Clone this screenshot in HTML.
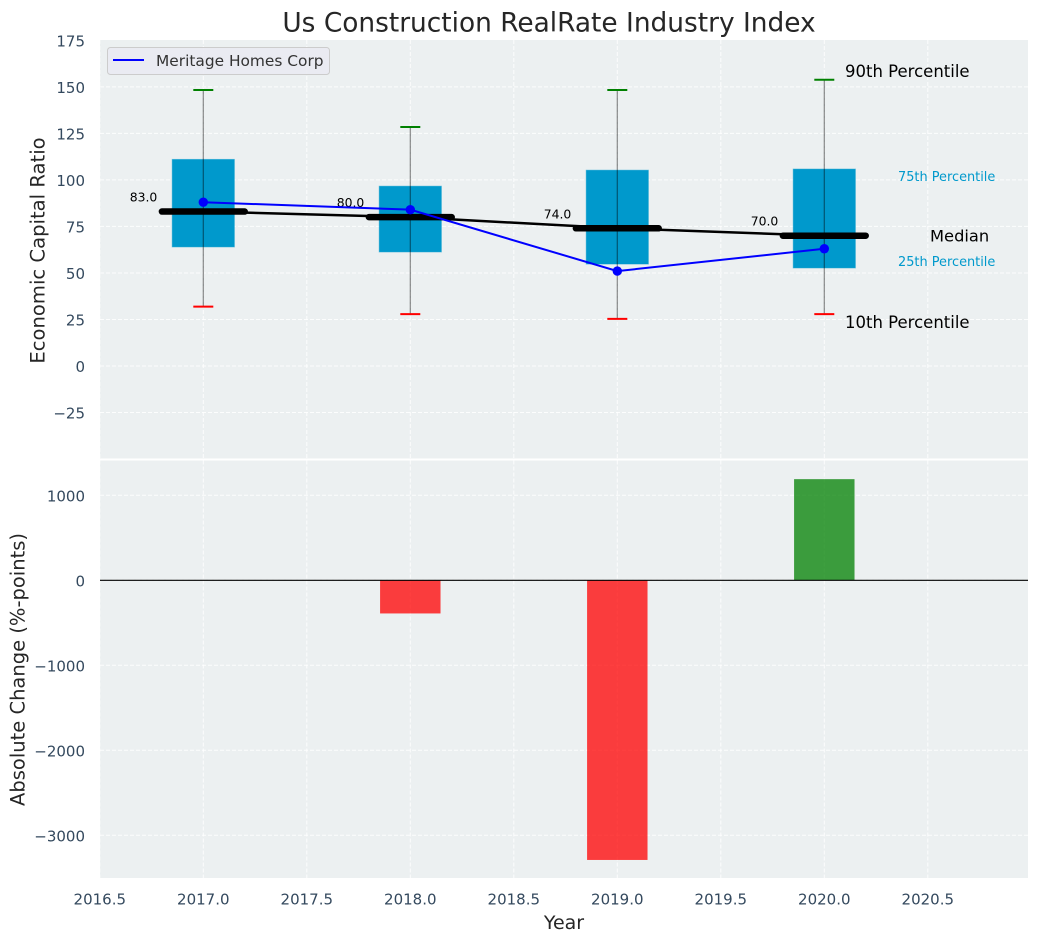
<!DOCTYPE html>
<html>
<head>
<meta charset="utf-8">
<title>Us Construction RealRate Industry Index</title>
<style>
html,body{margin:0;padding:0;background:#fff;width:1039px;height:942px;overflow:hidden}
svg{display:block}
text{font-family:"DejaVu Sans","Liberation Sans",sans-serif}
</style>
</head>
<body>
<svg id="chart" xmlns="http://www.w3.org/2000/svg" width="1039" height="942" viewBox="0 0 1039 942"></svg>
<script>
const years = [2017, 2018, 2019, 2020];
const p90 = [148.3, 128.4, 148.3, 153.8];
const p75 = [111.0, 96.6, 105.2, 105.8];
const medians = [83, 80, 74, 70];
const p25 = [64, 61.3, 54.8, 52.7];
const p10 = [31.9, 27.9, 25.3, 27.9];
const company = [88, 84, 51, 63];
const changeYears = [2018, 2019, 2020];
const changes = [-390, -3290, 1190];
const xTicks = [2016.5, 2017, 2017.5, 2018, 2018.5, 2019, 2019.5, 2020, 2020.5];
const topTicks = [175, 150, 125, 100, 75, 50, 25, 0, -25];
const bottomTicks = [1000, 0, -1000, -2000, -3000];

const svg = document.getElementById('chart');
const NS = 'http://www.w3.org/2000/svg';
const L = 100, R = 1028, T1 = 40, B1 = 458.5, T2 = 460.5, B2 = 878;
const xS = v => 203.3 + (v - 2017) * 207;
const yTop = v => 366 - v * 1.861;
const yBot = v => 580.3 - v * 0.085;
const fmtMinus = v => String(v).replace('-', '\u2212');

function make(tag, attrs, text) {
  const e = document.createElementNS(NS, tag);
  for (const k in attrs) e.setAttribute(k, attrs[k]);
  if (text !== undefined) e.textContent = text;
  svg.appendChild(e);
  return e;
}

let el;
el = make('rect', {x: L, y: T1, width: R - L, height: B1 - T1, fill: '#ecf0f1'});


el = make('rect', {x: L, y: T2, width: R - L, height: B2 - T2, fill: '#ecf0f1'});



const gridStyle = {stroke: '#ffffff', 'stroke-width': 1, 'stroke-dasharray': '4 2', 'stroke-opacity': 0.85};
xTicks.forEach(t => {
  el = make('line', Object.assign({x1: xS(t), x2: xS(t), y1: T1, y2: B1}, gridStyle));
  
  
  el = make('line', Object.assign({x1: xS(t), x2: xS(t), y1: T2, y2: B2}, gridStyle));
  
  
  el = make('text', {x: xS(t), y: 904.5, 'text-anchor': 'middle', 'font-size': 15, fill: '#34495e'}, t.toFixed(1));
  
  
});
topTicks.forEach(t => {
  if (t !== 175) {
    el = make('line', Object.assign({x1: L, x2: R, y1: yTop(t), y2: yTop(t)}, gridStyle));
    
    
  }
  el = make('text', {x: 85, y: yTop(t) + 6, 'text-anchor': 'end', 'font-size': 15, fill: '#34495e'}, fmtMinus(t));
  
  
});
bottomTicks.forEach(t => {
  el = make('line', Object.assign({x1: L, x2: R, y1: yBot(t), y2: yBot(t)}, gridStyle));
  
  
  el = make('text', {x: 85, y: yBot(t) + 6, 'text-anchor': 'end', 'font-size': 15, fill: '#34495e'}, fmtMinus(t));
  
  
});

/* percentile boxes */
years.forEach((y, i) => {
  el = make('rect', {x: xS(y - 0.15), width: xS(y + 0.15) - xS(y - 0.15), y: yTop(p75[i]), height: yTop(p25[i]) - yTop(p75[i]), fill: '#0099cc', stroke: '#0099cc', 'stroke-opacity': 0.5, 'stroke-width': 1});
  
  
});

/* median connector */
el = make('polyline', {points: years.map((y, i) => xS(y) + ',' + yTop(medians[i])).join(' '), fill: 'none', stroke: '#000', 'stroke-width': 2.5});



/* whiskers, caps and medians */
years.forEach((y, i) => {
  el = make('line', {x1: xS(y), x2: xS(y), y1: yTop(p90[i]), y2: yTop(p10[i]), stroke: '#000', 'stroke-opacity': 0.45, 'stroke-width': 1.2});
  
  
  el = make('line', {x1: xS(y) - 10, x2: xS(y) + 10, y1: yTop(p90[i]), y2: yTop(p90[i]), stroke: '#008000', 'stroke-width': 2});
  
  
  el = make('line', {x1: xS(y) - 10, x2: xS(y) + 10, y1: yTop(p10[i]), y2: yTop(p10[i]), stroke: '#ff0000', 'stroke-width': 2});
  
  
  el = make('line', {x1: xS(y - 0.2), x2: xS(y + 0.2), y1: yTop(medians[i]), y2: yTop(medians[i]), stroke: '#000', 'stroke-width': 6.5, 'stroke-linecap': 'round'});
  
  
  el = make('text', {x: xS(y) - 46, y: yTop(medians[i]) - 10, 'text-anchor': 'end', 'font-size': 12.4, fill: '#000'}, medians[i].toFixed(1));
  
  
});

/* company series */
el = make('polyline', {points: years.map((y, i) => xS(y) + ',' + yTop(company[i])).join(' '), fill: 'none', stroke: '#0000ff', 'stroke-width': 2});


years.forEach((y, i) => {
  el = make('circle', {cx: xS(y), cy: yTop(company[i]), r: 4.7, fill: '#0000ff'});
  
  
});

/* change bars */
changeYears.forEach((y, i) => {
  const v = changes[i];
  el = make('rect', {x: xS(y - 0.146), width: xS(y + 0.146) - xS(y - 0.146), y: Math.min(yBot(v), yBot(0)), height: Math.abs(yBot(v) - yBot(0)), fill: v < 0 ? '#ff0000' : '#008000', 'fill-opacity': 0.75});
  
  
});
el = make('line', {x1: L, x2: R, y1: yBot(0), y2: yBot(0), stroke: '#000', 'stroke-width': 1.2});



/* percentile annotations beside the final box */
const last = years.length - 1;
el = make('text', {x: 845, y: yTop(p90[last]) - 3, 'font-size': 16.5, fill: '#000'}, '90th Percentile');


el = make('text', {x: 898, y: yTop(p75[last]) + 12, 'font-size': 12.9, fill: '#0099cc'}, '75th Percentile');


el = make('text', {x: 930, y: yTop(medians[last]) + 6, 'font-size': 16.3, fill: '#000'}, 'Median');


el = make('text', {x: 898, y: yTop(p25[last]) - 2, 'font-size': 12.9, fill: '#0099cc'}, '25th Percentile');


el = make('text', {x: 845, y: yTop(p10[last]) + 14, 'font-size': 16.5, fill: '#000'}, '10th Percentile');



/* legend */
el = make('rect', {x: 107.5, y: 47.5, width: 222, height: 27, rx: 3, fill: '#eaeaf2', 'fill-opacity': 0.9, stroke: '#cccccc'});


el = make('line', {x1: 113, x2: 144, y1: 60, y2: 60, stroke: '#0000ff', 'stroke-width': 2});


el = make('text', {x: 156, y: 66, 'font-size': 15.4, fill: '#333333'}, 'Meritage Homes Corp');



/* titles */
el = make('text', {x: 549, y: 31.5, 'text-anchor': 'middle', 'font-size': 26.4, fill: '#262626'}, 'Us Construction RealRate Industry Index');


el = make('text', {x: 564, y: 929, 'text-anchor': 'middle', 'font-size': 19, fill: '#262626'}, 'Year');


el = make('text', {x: 0, y: 0, transform: 'translate(44.5 250.5) rotate(-90)', 'text-anchor': 'middle', 'font-size': 19.6, fill: '#262626'}, 'Economic Capital Ratio');


el = make('text', {x: 0, y: 0, transform: 'translate(24.5 669.5) rotate(-90)', 'text-anchor': 'middle', 'font-size': 19.5, fill: '#262626'}, 'Absolute Change (%-points)');


</script>
</body>
</html>
